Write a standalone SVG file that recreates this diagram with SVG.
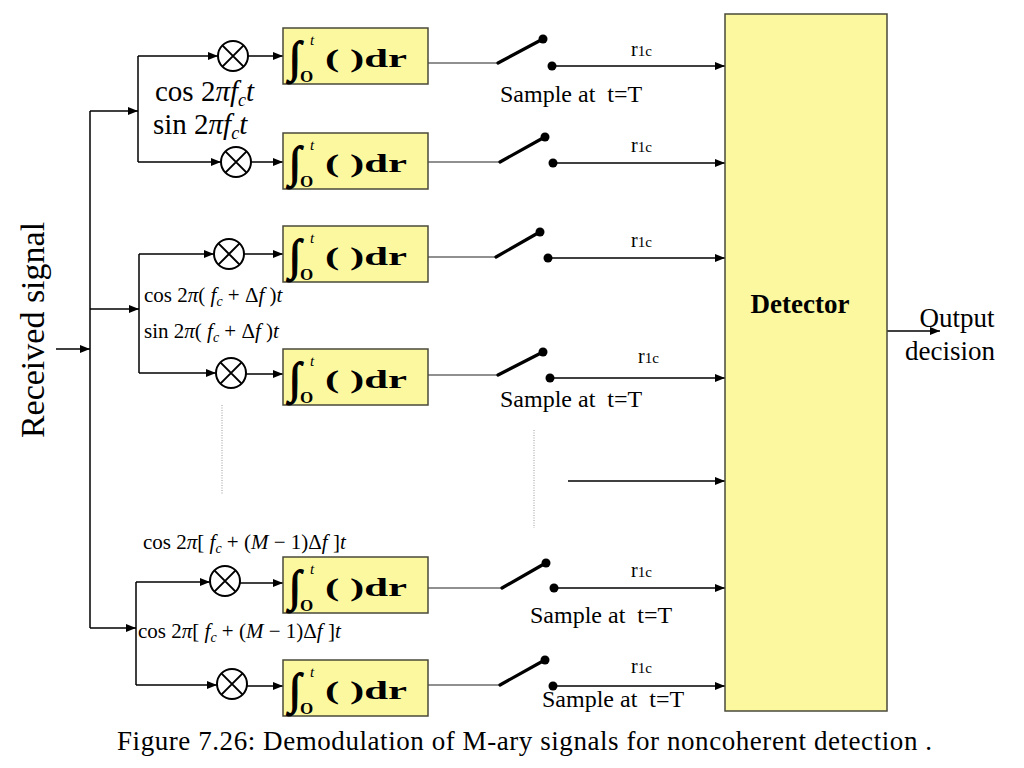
<svg xmlns="http://www.w3.org/2000/svg" width="1024" height="768" viewBox="0 0 1024 768">
<defs>
<marker id="arr" markerUnits="userSpaceOnUse" markerWidth="10" markerHeight="8" refX="10" refY="4" orient="auto">
<path d="M0,0 L10,4 L0,8 z" fill="#000"/>
</marker>
</defs>
<style>
text{font-family:"Liberation Serif","Times New Roman",serif;fill:#000;white-space:pre}
.int{fill:#FCF8A0;stroke:#4a4a3a;stroke-width:1.5}
.det{fill:#FCF8A0;stroke:#4a4a3a;stroke-width:1.5}
.ln{stroke:#000;stroke-width:1.5;fill:none}
.arw{stroke:#000;stroke-width:1.5;fill:none;marker-end:url(#arr)}
.thin{stroke:#222;stroke-width:1.2;fill:none}
.blade{stroke:#000;stroke-width:3.2;fill:none;stroke-linecap:round}
.dot{fill:#000}
.mul{fill:#fff;stroke:#000;stroke-width:2}
.mulx{stroke:#000;stroke-width:2}
.dotted{stroke:#999;stroke-width:1;stroke-dasharray:1,1.5;fill:none}
.isym{font-size:44px;stroke:#000;stroke-width:1.3}
.io{font-size:17px;font-weight:bold}
.it{font-size:15px;font-style:italic}
.idr{font-size:26px;font-weight:bold}
.samp{font-size:24px}
.rr{font-size:20px}
.rs{font-size:15px}
.big{font-size:29px}
.sm{font-size:21px}
.i{font-style:italic}
</style>
<rect x="0" y="0" width="1024" height="768" fill="#fff"/>

<g id="connectors">
<path class="arw" d="M56,349 H90"/>
<path class="ln" d="M90,111 V628"/>
<path class="arw" d="M90,111 H138"/>
<path class="arw" d="M90,309 H139"/>
<path class="arw" d="M90,628 H136"/>
<path class="ln" d="M138,56 V162"/>
<path class="arw" d="M138,56 H218"/>
<path class="arw" d="M138,162 H221"/>
<path class="arw" d="M248,56 H283"/>
<path class="arw" d="M251,162 H283"/>
<path class="ln" d="M139,254 V373"/>
<path class="arw" d="M139,254 H214"/>
<path class="arw" d="M139,373 H216"/>
<path class="arw" d="M244,254 H283"/>
<path class="arw" d="M246,374 H283"/>
<path class="ln" d="M136,582 V685"/>
<path class="arw" d="M136,582 H210"/>
<path class="arw" d="M136,685 H217"/>
<path class="arw" d="M240,583 H283"/>
<path class="arw" d="M247,686 H283"/>

<path class="thin" d="M428,63 H498"/>
<path class="blade" d="M498,63 L541,40"/>
<circle class="dot" cx="543" cy="39" r="4.5"/>
<circle class="dot" cx="552" cy="66" r="4.5"/>
<path class="arw" d="M552,66 H725"/>

<path class="thin" d="M428,162 H500"/>
<path class="blade" d="M500,162 L543,138"/>
<circle class="dot" cx="545" cy="137" r="4.5"/>
<circle class="dot" cx="553" cy="163" r="4.5"/>
<path class="arw" d="M553,163 H725"/>

<path class="thin" d="M428,257 H496"/>
<path class="blade" d="M496,257 L538,233"/>
<circle class="dot" cx="540" cy="232" r="4.5"/>
<circle class="dot" cx="548" cy="258" r="4.5"/>
<path class="arw" d="M548,258 H725"/>

<path class="thin" d="M428,375 H498"/>
<path class="blade" d="M498,375 L541,353"/>
<circle class="dot" cx="543" cy="352" r="4.5"/>
<circle class="dot" cx="550" cy="378" r="4.5"/>
<path class="arw" d="M550,378 H725"/>

<path class="thin" d="M428,588 H502"/>
<path class="blade" d="M502,588 L544,564"/>
<circle class="dot" cx="546" cy="563" r="4.5"/>
<circle class="dot" cx="554" cy="588" r="4.5"/>
<path class="arw" d="M554,588 H725"/>

<path class="thin" d="M428,685 H500"/>
<path class="blade" d="M500,685 L543,661"/>
<circle class="dot" cx="545" cy="660" r="4.5"/>
<circle class="dot" cx="553" cy="686" r="4.5"/>
<path class="arw" d="M553,686 H725"/>

<path class="arw" d="M568,481 H725"/>
<path class="arw" d="M887,331 H940"/>
<path class="dotted" d="M222,405 V495"/>
<path class="dotted" d="M534,430 V528"/>
</g>

<g id="mul1"><circle class="mul" cx="233" cy="56" r="15"/><path class="mulx" d="M222.4,45.4 L243.6,66.6 M243.6,45.4 L222.4,66.6"/></g>
<g id="mul2"><circle class="mul" cx="236" cy="162" r="15"/><path class="mulx" d="M225.4,151.4 L246.6,172.6 M246.6,151.4 L225.4,172.6"/></g>
<g id="mul3"><circle class="mul" cx="229" cy="254" r="15"/><path class="mulx" d="M218.4,243.4 L239.6,264.6 M239.6,243.4 L218.4,264.6"/></g>
<g id="mul4"><circle class="mul" cx="231" cy="373" r="15"/><path class="mulx" d="M220.4,362.4 L241.6,383.6 M241.6,362.4 L220.4,383.6"/></g>
<g id="mul5"><circle class="mul" cx="225" cy="581" r="15"/><path class="mulx" d="M214.4,570.4 L235.6,591.6 M235.6,570.4 L214.4,591.6"/></g>
<g id="mul6"><circle class="mul" cx="232" cy="684" r="15"/><path class="mulx" d="M221.4,673.4 L242.6,694.6 M242.6,673.4 L221.4,694.6"/></g>

<g id="int1"><rect class="int" x="283" y="28" width="145" height="56"/>
<text class="isym" x="289" y="72">∫</text><text class="io" x="300" y="82">O</text><text class="it" x="310" y="45">t</text>
<text class="idr" x="325" y="67" textLength="82" lengthAdjust="spacingAndGlyphs">( )dr</text></g>
<g id="int2"><rect class="int" x="283" y="133" width="145" height="56"/>
<text class="isym" x="289" y="177">∫</text><text class="io" x="300" y="187">O</text><text class="it" x="310" y="150">t</text>
<text class="idr" x="325" y="172" textLength="82" lengthAdjust="spacingAndGlyphs">( )dr</text></g>
<g id="int3"><rect class="int" x="283" y="226" width="145" height="56"/>
<text class="isym" x="289" y="270">∫</text><text class="io" x="300" y="280">O</text><text class="it" x="310" y="243">t</text>
<text class="idr" x="325" y="265" textLength="82" lengthAdjust="spacingAndGlyphs">( )dr</text></g>
<g id="int4"><rect class="int" x="283" y="349" width="145" height="56"/>
<text class="isym" x="289" y="393">∫</text><text class="io" x="300" y="403">O</text><text class="it" x="310" y="366">t</text>
<text class="idr" x="325" y="388" textLength="82" lengthAdjust="spacingAndGlyphs">( )dr</text></g>
<g id="int5"><rect class="int" x="283" y="557" width="145" height="56"/>
<text class="isym" x="289" y="601">∫</text><text class="io" x="300" y="611">O</text><text class="it" x="310" y="574">t</text>
<text class="idr" x="325" y="596" textLength="82" lengthAdjust="spacingAndGlyphs">( )dr</text></g>
<g id="int6"><rect class="int" x="283" y="660" width="145" height="56"/>
<text class="isym" x="289" y="704">∫</text><text class="io" x="300" y="714">O</text><text class="it" x="310" y="677">t</text>
<text class="idr" x="325" y="699" textLength="82" lengthAdjust="spacingAndGlyphs">( )dr</text></g>

<g id="detector"><rect class="det" x="725" y="14" width="162" height="697"/>
<text x="800" y="313" font-size="27" font-weight="bold" text-anchor="middle">Detector</text></g>

<g id="labels">
<text class="big" x="155" y="101">cos 2<tspan class="i">πf</tspan><tspan class="i" font-size="18" dy="5">c</tspan><tspan class="i" dy="-5">t</tspan></text>
<text class="big" x="153" y="134">sin 2<tspan class="i">πf</tspan><tspan class="i" font-size="18" dy="5">c</tspan><tspan class="i" dy="-5">t</tspan></text>
<text class="sm" x="144" y="302">cos 2<tspan class="i">π</tspan>( <tspan class="i">f</tspan><tspan class="i" font-size="14" dy="4">c</tspan><tspan dy="-4"> + Δ</tspan><tspan class="i">f</tspan> )<tspan class="i">t</tspan></text>
<text class="sm" x="144" y="338">sin 2<tspan class="i">π</tspan>( <tspan class="i">f</tspan><tspan class="i" font-size="14" dy="4">c</tspan><tspan dy="-4"> + Δ</tspan><tspan class="i">f</tspan> )<tspan class="i">t</tspan></text>
<text class="sm" x="143" y="549">cos 2<tspan class="i">π</tspan>[ <tspan class="i">f</tspan><tspan class="i" font-size="14" dy="4">c</tspan><tspan dy="-4"> + (</tspan><tspan class="i">M</tspan> − 1)Δ<tspan class="i">f</tspan> ]<tspan class="i">t</tspan></text>
<text class="sm" x="138" y="638">cos 2<tspan class="i">π</tspan>[ <tspan class="i">f</tspan><tspan class="i" font-size="14" dy="4">c</tspan><tspan dy="-4"> + (</tspan><tspan class="i">M</tspan> − 1)Δ<tspan class="i">f</tspan> ]<tspan class="i">t</tspan></text>

<text x="631" y="56"><tspan class="rr">r</tspan><tspan class="rs">1c</tspan></text>
<text x="631" y="152"><tspan class="rr">r</tspan><tspan class="rs">1c</tspan></text>
<text x="631" y="247"><tspan class="rr">r</tspan><tspan class="rs">1c</tspan></text>
<text x="638" y="363"><tspan class="rr">r</tspan><tspan class="rs">1c</tspan></text>
<text x="631" y="577"><tspan class="rr">r</tspan><tspan class="rs">1c</tspan></text>
<text x="631" y="673"><tspan class="rr">r</tspan><tspan class="rs">1c</tspan></text>

<text class="samp" x="500" y="102">Sample at  t=T</text>
<text class="samp" x="500" y="407">Sample at  t=T</text>
<text class="samp" x="530" y="623">Sample at  t=T</text>
<text class="samp" x="542" y="707">Sample at  t=T</text>

<text x="957" y="327" font-size="27" text-anchor="middle">Output</text>
<text x="950" y="360" font-size="27" text-anchor="middle">decision</text>

<text x="0" y="0" font-size="34" text-anchor="middle" transform="translate(44,330) rotate(-90)">Received signal</text>

<text x="117" y="750" font-size="27" textLength="815">Figure 7.26: Demodulation of M-ary signals for noncoherent detection .</text>
</g>
</svg>
